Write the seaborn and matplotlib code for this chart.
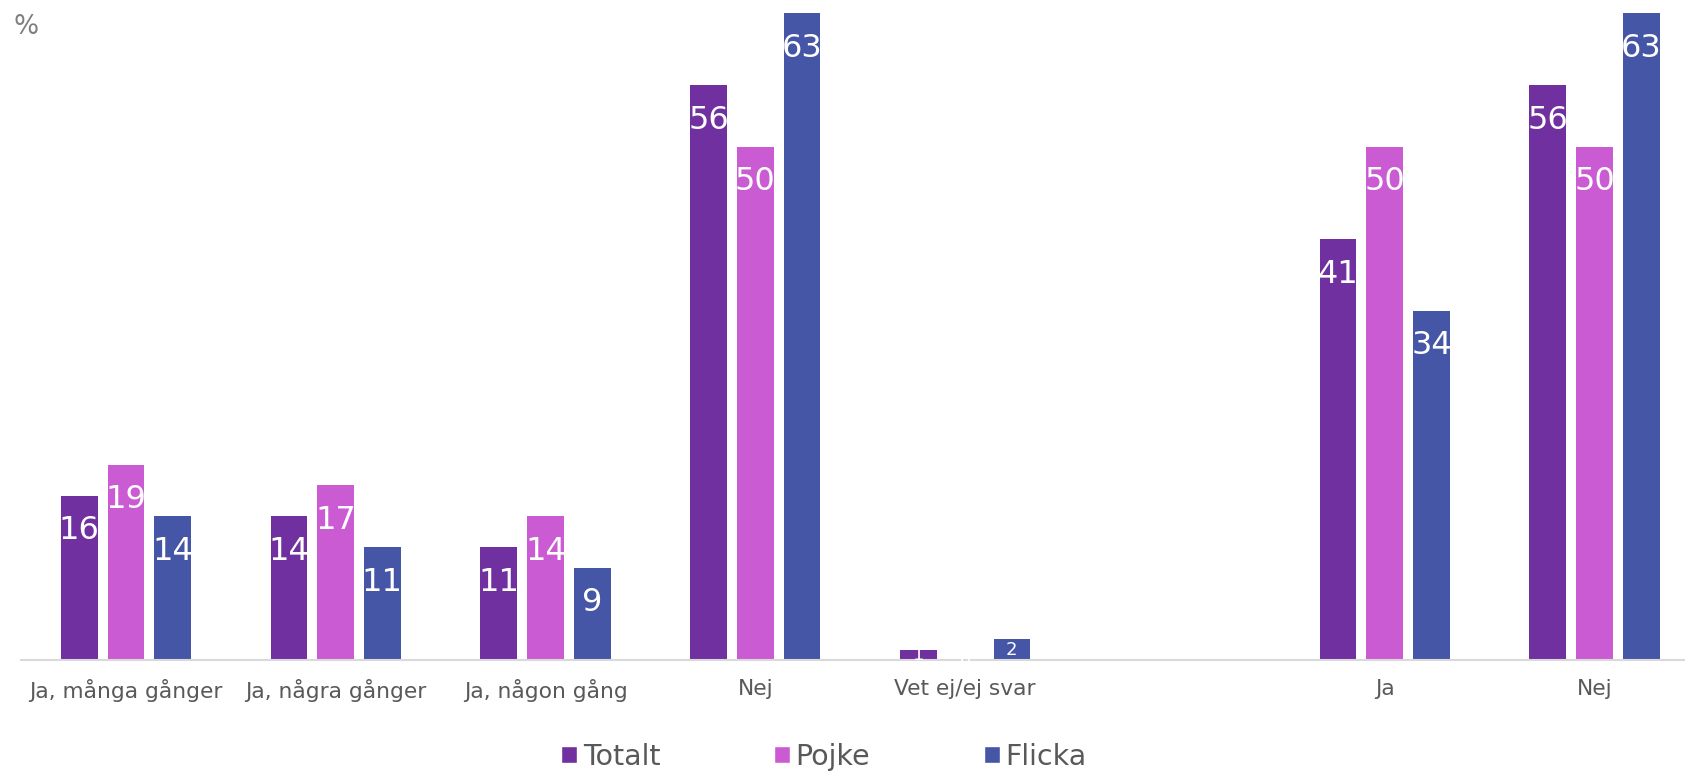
import pandas as pd
import matplotlib.pyplot as plt
import seaborn as sns
from matplotlib.patches import Patch

# Answer categories (slot 5 is an empty spacer between the two questions)
categories = ['Ja, många gånger', 'Ja, några gånger', 'Ja, någon gång', 'Nej',
              'Vet ej/ej svar', '', 'Ja', 'Nej']
slots = [0, 1, 2, 3, 4, 6, 7]
totalt = [16, 14, 11, 56, 1, 41, 56]
pojke = [19, 17, 14, 50, 0, 50, 50]
flicka = [14, 11, 9, 63, 2, 34, 63]

groups = ['Totalt', 'Pojke', 'Flicka']
colors = ['#7030A0', '#CB5BD3', '#4656A6']

df = pd.DataFrame({
    'slot': slots * 3,
    'group': ['Totalt'] * 7 + ['Pojke'] * 7 + ['Flicka'] * 7,
    'value': totalt + pojke + flicka,
})

sns.set_style('white')
plt.rcParams['font.family'] = ['DejaVu Sans']

fig = plt.figure(figsize=(16.85, 7.73), dpi=100)
ax = fig.add_axes([21 / 1685, 113 / 773, 1664 / 1685, 646.7 / 773])

sns.barplot(data=df, x='slot', y='value', hue='group', order=list(range(8)),
            hue_order=groups, palette=colors, width=0.668, gap=0.214,
            errorbar=None, saturation=1, linewidth=0, legend=False, ax=ax)

# value labels: big ones inside the top of the bar, small ones centred
for c in ax.containers:
    vals = c.datavalues
    txts = ax.bar_label(c, labels=[f'{v:.0f}' if v >= 5 else '' for v in vals],
                        padding=-14, color='white', fontsize=23)
    for t in txts:
        t.set_va('top')
    ax.bar_label(c, labels=[f'{v:.0f}' if v < 5 else '' for v in vals],
                 label_type='center', color='white', fontsize=13)

ax.set_xlim(-0.5, 7.431)
ax.set_ylim(0, 63)
ax.set_xticks(range(8))
ax.set_xticklabels(categories)
ax.tick_params(axis='x', length=0, pad=14, labelsize=15.7, labelcolor='#595959')
ax.set_yticks([])
ax.set_xlabel('')
ax.set_ylabel('')
for side in ['left', 'right', 'top']:
    ax.spines[side].set_visible(False)
ax.spines['bottom'].set_color('#D9D9D9')
ax.spines['bottom'].set_linewidth(1.5)

fig.text(13 / 1685, 1 - 14 / 773, '%', fontsize=19, color='#7F7F7F', va='top')

handles = [Patch(facecolor=col, label=g) for g, col in zip(groups, colors)]
fig.legend(handles=handles, loc='center', bbox_to_anchor=(0.489, 0.021), ncol=3,
           frameon=False, fontsize=20.5, labelcolor='#595959',
           handlelength=0.55, handleheight=0.55, handletextpad=0.2,
           columnspacing=4.0)

fig.savefig('out.png', dpi=100)
